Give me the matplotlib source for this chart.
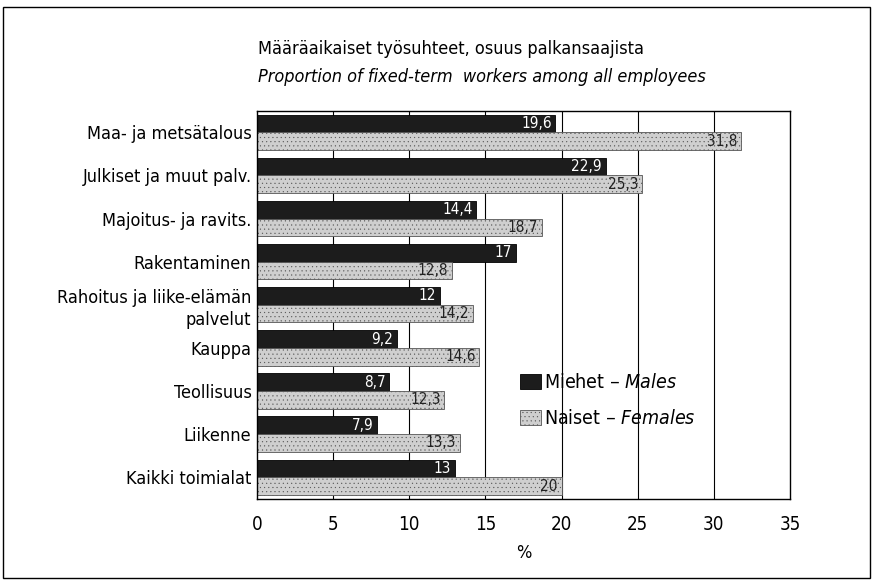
import numpy as np
import matplotlib
matplotlib.use("Agg")
import matplotlib.pyplot as plt
from matplotlib.patches import Rectangle

plt.rcParams['font.family'] = ['DejaVu Sans']
plt.rcParams['font.stretch'] = 'condensed'
plt.rcParams['hatch.linewidth'] = 0.3

categories = ['Maa- ja metsätalous', 'Julkiset ja muut palv.', 'Majoitus- ja ravits.',
              'Rakentaminen', 'Rahoitus ja liike-elämän\npalvelut', 'Kauppa',
              'Teollisuus', 'Liikenne', 'Kaikki toimialat']
males = [19.6, 22.9, 14.4, 17, 12, 9.2, 8.7, 7.9, 13]
females = [31.8, 25.3, 18.7, 12.8, 14.2, 14.6, 12.3, 13.3, 20]
xticks = [0, 5, 10, 15, 20, 25, 30, 35]


def fmt(v):
    # finnish decimal comma
    s = f"{v:g}"
    return s.replace('.', ',')


fig = plt.figure(figsize=(8.73, 5.80), dpi=100)
# outer frame round the whole picture
fig.patches.append(Rectangle((0.004, 0.004), 0.992, 0.984, transform=fig.transFigure,
                             fill=False, edgecolor='black', linewidth=1.0))

ax = fig.add_axes([0.2944, 0.140, 0.6105, 0.669])
y = np.arange(len(categories))
h = 0.41

for x in xticks[1:-1]:
    ax.axvline(x, color='black', linewidth=0.8, zorder=0)

bm = ax.barh(y - h / 2, males, height=h, color='#1c1c1c', edgecolor='black',
             linewidth=0.6, zorder=2, label='Miehet – $\\it{Males}$')
bf = ax.barh(y + h / 2, females, height=h, color='#cfcfcf', edgecolor='#555555',
             linewidth=0.6, hatch='....', zorder=2, label='Naiset – $\\it{Females}$')

for i in range(len(categories)):
    ax.text(males[i] - 0.25, y[i] - h / 2, fmt(males[i]), ha='right', va='center',
            color='white', fontsize=11, zorder=3)
    ax.text(females[i] - 0.25, y[i] + h / 2, fmt(females[i]), ha='right', va='center',
            color='#222222', fontsize=11, zorder=3)

ax.set_xlim(0, 35)
ax.set_ylim(len(categories) - 0.5, -0.5)
ax.set_xticks(xticks)
ax.set_yticks(y)
ax.set_yticklabels(categories, fontsize=13, linespacing=1.3)
ax.tick_params(axis='x', length=0, labelsize=13.5, pad=12)
ax.tick_params(axis='y', length=0, pad=4)
for s in ax.spines.values():
    s.set_linewidth(1.0)
ax.set_xlabel('%', fontsize=13, labelpad=7)

fig.text(0.2955, 0.915, 'Määräaikaiset työsuhteet, osuus palkansaajista', fontsize=13,
         ha='left', va='center')
fig.text(0.2955, 0.868, 'Proportion of fixed-term  workers among all employees', fontsize=13,
         ha='left', va='center', style='italic')

ax.legend(handles=[bm, bf], loc='upper left', bbox_to_anchor=(0.478, 0.343), frameon=False,
          fontsize=14, handlelength=1.1, handleheight=0.8, handletextpad=0.15,
          labelspacing=0.85, borderaxespad=0)

fig.savefig('out.png', dpi=100)
